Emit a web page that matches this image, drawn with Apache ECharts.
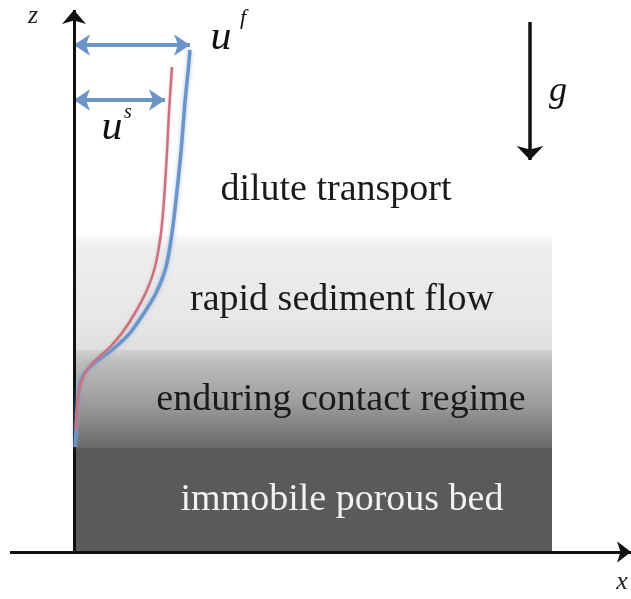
<!DOCTYPE html>
<html><head><meta charset="utf-8">
<script src="https://cdn.jsdelivr.net/npm/echarts@6/dist/echarts.min.js"></script>
<style>html,body{margin:0;padding:0;background:#fff}#c{width:631px;height:599px}</style>
</head><body><div id="c"></div>
<script>
// Zones (height z, arbitrary units measured up from the bed base)
const zoneNames  = ['immobile porous bed', 'enduring contact regime', 'rapid sediment flow', 'dilute transport'];
const zoneBottom = [0, 104, 202, 316];
const zoneTop    = [104, 202, 316, null];
const bedWidth   = 478;

// Fluid velocity profile u^f(z)
const ufZ   = [105, 122, 152, 172, 182, 190, 199, 209, 219, 239, 259, 285, 319, 352, 400, 450, 480, 502];
const ufVel = [1,   2,   4,   7,   13,  22,  34,  46,  56,  70,  82,  92,  98,  102, 107, 111, 114, 116];
// Particle velocity profile u^s(z)
const usZ   = [122, 152, 172, 185, 195, 205, 219, 239, 262, 285, 319, 352, 400, 440, 485];
const usVel = [2,   4,   8,   15,  25,  36,  48,  61,  73,  81,  87,  90,  93,  95,  98];

// Annotation arrows
const ufArrow = {z: 507, from: 0, to: 116};
const usArrow = {z: 452, from: 0, to: 91};
const gArrow  = {x: 456, from: 530, to: 392};

const chart = echarts.init(document.getElementById('c'), null, {renderer: 'canvas'});

const zoneFills = [
  '#5a5a5a',
  {type: 'linear', x: 0, y: 0, x2: 0, y2: 1, colorStops: [
    {offset: 0, color: '#d2d2d2'}, {offset: 0.12, color: '#bdbdbd'}, {offset: 0.55, color: '#9c9c9c'}, {offset: 1, color: '#686868'}]},
  {type: 'linear', x: 0, y: 0, x2: 0, y2: 1, colorStops: [
    {offset: 0, color: '#f8f8f8'}, {offset: 0.12, color: '#eeeeee'}, {offset: 0.8, color: '#e6e6e6'}, {offset: 1, color: '#dedede'}]}
];

const areas = [];
for (let i = 0; i < zoneNames.length; i++) {
  if (zoneTop[i] === null) continue;
  areas.push([{coord: [0, zoneBottom[i]], itemStyle: {color: zoneFills[i]}}, {coord: [bedWidth, zoneTop[i]]}]);
}

const serif = '"Liberation Serif", "DejaVu Serif", serif';
const blue = '#6b95c9';

function ml(name, data, color, width, symbols, size, z) {
  return {
    type: 'line', name: name, data: [], z: z, silent: true,
    markLine: {
      silent: true, symbol: symbols, symbolSize: size, animation: false,
      label: {show: false},
      lineStyle: {color: color, width: width, type: 'solid'},
      emphasis: {disabled: true},
      data: data
    }
  };
}

chart.setOption({
  animation: false,
  grid: {left: 0, right: 0, top: 0, bottom: 0},
  xAxis: {type: 'value', min: -74, max: 557, show: false},
  yAxis: {type: 'value', min: -47, max: 552, show: false},
  series: [
    {
      type: 'line', name: 'zones', data: [], z: 1, silent: true,
      markArea: {silent: true, data: areas, label: {show: false}}
    },
    {
      type: 'line', name: 'u^f', z: 5, smooth: 0.3, symbol: 'none',
      data: ufZ.map((z, i) => [ufVel[i], z]),
      lineStyle: {color: blue, width: 3.5, shadowColor: 'rgba(120,160,215,0.6)', shadowBlur: 4}
    },
    {
      type: 'line', name: 'u^s', z: 6, smooth: 0.3, symbol: 'none',
      data: usZ.map((z, i) => [usVel[i], z]),
      lineStyle: {color: '#c8737c', width: 2.5, shadowColor: 'rgba(220,150,160,0.5)', shadowBlur: 3}
    },
    ml('uf arrow', [[{coord: [ufArrow.from, ufArrow.z]}, {coord: [ufArrow.to, ufArrow.z]}]], blue, 4, ['arrow', 'arrow'], [16, 16], 7),
    ml('us arrow', [[{coord: [usArrow.from, usArrow.z]}, {coord: [usArrow.to, usArrow.z]}]], blue, 4, ['arrow', 'arrow'], [16, 16], 7),
    ml('g arrow', [[{coord: [gArrow.x, gArrow.from]}, {coord: [gArrow.x, gArrow.to]}]], '#111', 3.5, ['none', 'arrow'], [20, 14], 8),
    ml('x axis', [[{coord: [-64, 0]}, {coord: [557, 0]}]], '#111', 3, ['none', 'arrow'], [16, 14], 9),
    ml('z axis', [[{coord: [0, 0]}, {coord: [0, 542]}]], '#111', 3, ['none', 'arrow'], [18, 14], 9)
  ],
  graphic: [
    {type: 'text', x: 336, y: 190, z: 20, style: {text: zoneNames[3], font: '38px ' + serif, fill: '#1a1a1a', align: 'center', verticalAlign: 'middle'}},
    {type: 'text', x: 342, y: 300, z: 20, style: {text: zoneNames[2], font: '38px ' + serif, fill: '#1a1a1a', align: 'center', verticalAlign: 'middle'}},
    {type: 'text', x: 341, y: 400, z: 20, style: {text: zoneNames[1], font: '38px ' + serif, fill: '#1a1a1a', align: 'center', verticalAlign: 'middle'}},
    {type: 'text', x: 342, y: 500, z: 20, style: {text: zoneNames[0], font: '38px ' + serif, fill: '#f2f2f2', align: 'center', verticalAlign: 'middle'}},
    {type: 'text', x: 33, y: 16, z: 20, style: {text: 'z', font: 'italic 26px ' + serif, fill: '#222', align: 'center', verticalAlign: 'middle'}},
    {type: 'text', x: 622, y: 582, z: 20, style: {text: 'x', font: 'italic 26px ' + serif, fill: '#222', align: 'center', verticalAlign: 'middle'}},
    {type: 'text', x: 558, y: 92, z: 20, style: {text: 'g', font: 'italic 36px ' + serif, fill: '#111', align: 'center', verticalAlign: 'middle'}},
    {type: 'text', x: 221, y: 38, z: 20, style: {text: 'u', font: 'italic 42px ' + serif, fill: '#111', align: 'center', verticalAlign: 'middle'}},
    {type: 'text', x: 243, y: 18, z: 20, style: {text: 'f', font: 'italic 22px ' + serif, fill: '#111', align: 'center', verticalAlign: 'middle'}},
    {type: 'text', x: 112, y: 128, z: 20, style: {text: 'u', font: 'italic 42px ' + serif, fill: '#111', align: 'center', verticalAlign: 'middle'}},
    {type: 'text', x: 128, y: 113, z: 20, style: {text: 's', font: 'italic 20px ' + serif, fill: '#111', align: 'center', verticalAlign: 'middle'}}
  ]
});
</script>
</body></html>
